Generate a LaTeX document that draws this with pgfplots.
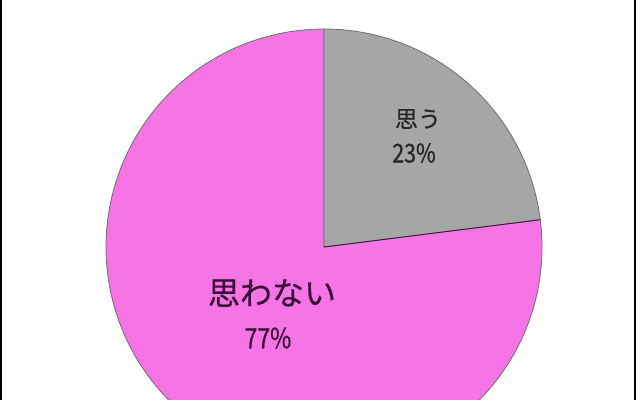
\documentclass[border=0pt]{standalone}
\usepackage{fontspec}
\setmainfont{Noto Sans CJK JP}
\newfontfamily\labelfont[FakeBold=0.6]{Noto Sans CJK JP}
\newfontfamily\numfont[FakeBold=0.6, FakeStretch=0.82]{Noto Sans CJK JP}
\usepackage{pgfplots}
\usepackage{pgfplotstable}
\pgfplotsset{compat=1.18}

\definecolor{sliceGray}{HTML}{A6A6A6}
\definecolor{slicePink}{HTML}{F774E6}
\definecolor{edgeCol}{HTML}{6E6E6E}
\definecolor{pinkText}{HTML}{3A1038}

% share of answers, in percent
\pgfplotstableread{
answer value
omou 23
omowanai 77
}\pietable

\begin{document}
\begin{tikzpicture}
\pgfplotstablegetelem{0}{value}\of\pietable
\pgfmathsetmacro\va{\pgfplotsretval}
\pgfmathsetmacro\split{90-3.6*\va}
\def\cx{324}\def\cy{153}\def\r{218}
\begin{axis}[
    at={(0,0)}, anchor=origin,
    x=1bp, y=1bp,
    xmin=0, xmax=640, ymin=0, ymax=400,
    scale only axis,
    hide axis,
    clip=true,
]
  % pink slice (77%)
  \fill[slicePink, draw=edgeCol, line width=0.8bp]
    (axis cs:\cx,\cy) -- (axis cs:{\cx+\r*cos(\split)},{\cy+\r*sin(\split)})
    arc[start angle=\split, end angle=-270, radius=\r bp] -- cycle;
  % gray slice (23%)
  \fill[sliceGray, draw=edgeCol, line width=0.8bp]
    (axis cs:\cx,\cy) -- (axis cs:\cx,{\cy+\r})
    arc[start angle=90, end angle=\split, radius=\r bp] -- cycle;
  \draw[violet!60!black, line width=0.8bp]
    (axis cs:\cx,\cy) -- (axis cs:{\cx+\r*cos(\split)},{\cy+\r*sin(\split)});

  \node[text=black!85, font=\labelfont\fontsize{23bp}{26bp}\selectfont] at (axis cs:418,281) {思う};
  \node[text=black!85, font=\numfont\fontsize{26bp}{28bp}\selectfont] at (axis cs:414,247) {23\%};
  \node[text=pinkText, font=\labelfont\fontsize{32bp}{36bp}\selectfont] at (axis cs:272,107) {思わない};
  \node[text=pinkText, font=\numfont\fontsize{28bp}{30bp}\selectfont] at (axis cs:268,62) {77\%};

  % frame
  \draw[black, line width=2bp] (axis cs:1,0) -- (axis cs:1,400);
  \draw[black, line width=2bp] (axis cs:634.5,0) -- (axis cs:634.5,400);
\end{axis}
\pgfresetboundingbox
\path (0,0) rectangle (640bp,400bp);
\end{tikzpicture}
\end{document}
